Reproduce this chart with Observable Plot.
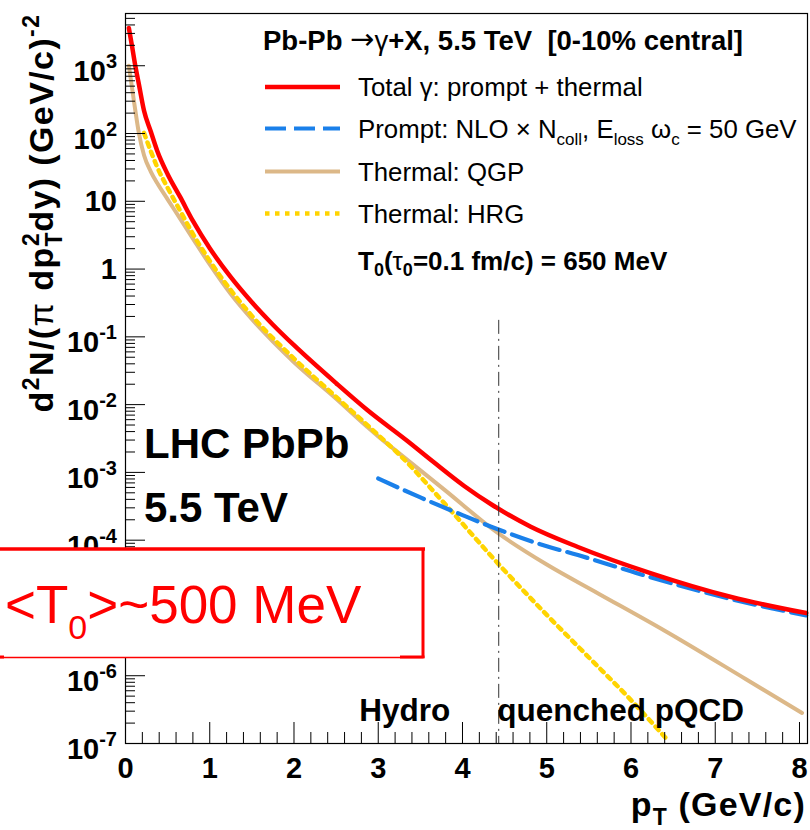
<!DOCTYPE html>
<html><head><meta charset="utf-8">
<script src="https://cdn.jsdelivr.net/npm/d3@7"></script>
<script src="https://cdn.jsdelivr.net/npm/@observablehq/plot@0.6"></script>
<style>
body{margin:0;background:#fff}
#chart{width:810px;height:830px;overflow:hidden}
#chart svg text{white-space:pre}
</style>
</head><body><div id="chart"></div>
<script>
// ---------------- data ----------------
const totalPt  = [0.04, 0.08, 0.12, 0.16, 0.22, 0.30, 0.376, 0.50, 0.65, 0.80, 1.00, 1.25, 1.50, 1.75, 2.00, 2.50, 2.87, 3.35, 3.66, 4.02, 4.34, 4.81, 5.37, 6.24, 7.19, 8.08];
const totalVal = [3600, 1860, 944, 525, 217, 107, 55.8, 25.1, 11.5, 5.13, 2.03, 0.759, 0.324, 0.151, 0.0752, 0.0207, 0.00832, 0.00288, 0.00141, 6.31e-4, 3.39e-4, 1.58e-4, 7.94e-5, 3.24e-5, 1.45e-5, 8.4e-6];

const promptPt  = [3.0, 3.5, 4.0, 4.34, 5.0, 5.37, 6.0, 6.24, 7.19, 8.08];
const promptVal = [8.13e-4, 4.27e-4, 2.34e-4, 1.58e-4, 8.13e-5, 6.03e-5, 3.47e-5, 2.82e-5, 1.35e-5, 7.76e-6];

const qgpPt  = [0.04, 0.10, 0.16, 0.22, 0.30, 0.376, 0.50, 0.65, 0.80, 1.00, 1.25, 1.50, 1.75, 2.00, 2.50, 2.87, 3.00, 3.26, 3.78, 4.41, 5.00, 5.61, 6.40, 7.36, 8.03];
const qgpVal = [1000, 302, 100, 47.9, 27.5, 18.6, 10.7, 5.5, 2.82, 1.17, 0.427, 0.182, 0.0851, 0.0423, 0.0122, 0.00468, 0.00339, 0.00186, 5.62e-4, 1.30e-4, 4.37e-5, 1.64e-5, 4.61e-6, 8.95e-7, 2.82e-7];

const hrgPt  = [0.22, 0.30, 0.376, 0.50, 0.65, 0.80, 1.00, 1.50, 2.00, 2.50, 3.00, 3.26, 3.78, 4.44, 5.00, 5.50, 6.00, 6.45];
const hrgVal = [102, 55, 32, 15.8, 7.2, 3.3, 1.32, 0.204, 0.0478, 0.0130, 3.55e-3, 1.78e-3, 3.55e-4, 4.27e-5, 7.9e-6, 1.86e-6, 4.37e-7, 1.07e-7];

const boundaryPt = [4.43];        // hydro / pQCD boundary (dash-dot line)
const boundaryTop = [0.175];      // upper end of the dash-dot line

const xDomain = [0, 8.095];
const yDomain = [1e-7, 5900];
const xMajor = [0, 1, 2, 3, 4, 5, 6, 7, 8];
const xMinor = d3.range(0, 40).map(i => +(i * 0.2 + 0.2).toFixed(1)).filter(v => v <= 8 && Math.abs(v - Math.round(v)) > 1e-6);
const yMajorExp = [-7, -6, -5, -4, -3, -2, -1, 0, 1, 2, 3];
const yLabelExp = [-7, -6, -4, -3, -2, -1, 0, 1, 2, 3];   // 10^-5 is hidden under the red box
const yMinor = yMajorExp.flatMap(e => [2,3,4,5,6,7,8,9].map(k => k * Math.pow(10, e))).filter(v => v < yDomain[1]);

// ---------------- styles ----------------
const FONT = "'Liberation Sans', Arial, Helvetica, sans-serif";
const C = {total: "#ff0000", prompt: "#1a80ea", qgp: "#dcb888", hrg: "#ffd400"};
const ST = {
  total:  {stroke: C.total, strokeWidth: 4.5},
  prompt: {stroke: C.prompt, strokeWidth: 4.2, strokeDasharray: "21,8"},
  qgp:    {stroke: C.qgp, strokeWidth: 4},
  hrg:    {stroke: C.hrg, strokeWidth: 4.5, strokeDasharray: "4.5,5.5"}
};

const rows = (xs, ys) => xs.map((x, i) => ({pT: x, v: ys[i]}));

function rich(parent, a, parts) {
  const t = parent.append("text")
    .attr("x", a.x).attr("y", a.y)
    .attr("font-family", FONT)
    .attr("font-size", a.size)
    .attr("font-weight", a.weight || "normal")
    .attr("fill", a.fill || "#000")
    .attr("text-anchor", a.anchor || "start")
    .style("white-space", "pre");
  if (a.spacing) t.attr("letter-spacing", a.spacing);
  if (a.transform) t.attr("transform", a.transform);
  let shift = 0;
  for (const p of parts) {
    const [s, o] = typeof p === "string" ? [p, {}] : p;
    const target = o.shift || 0;
    const ts = t.append("tspan").text(s).attr("dy", target - shift);
    if (o.size) ts.attr("font-size", o.size);
    if (o.dx) ts.attr("dx", o.dx);
    if (o.weight) ts.attr("font-weight", o.weight);
    if (o.family) ts.attr("font-family", o.family);
    shift = target;
  }
  return t;
}

// y tick labels (10^n with superscripts)
function yTickLabels(index, scales) {
  const g = d3.create("svg:g");
  for (const e of yLabelExp) {
    const py = scales.y(Math.pow(10, e));
    if (e === 0) rich(g, {x: 117, y: py + 10, anchor: "end", size: 29, weight: "bold"}, ["1"]);
    else if (e === 1) rich(g, {x: 117, y: py + 10, anchor: "end", size: 29, weight: "bold"}, ["10"]);
    else rich(g, {x: 117, y: py + 16, anchor: "end", size: 29, weight: "bold"}, ["10", [String(e), {size: 20, shift: -13}]]);
  }
  return g.node();
}

function axisTitles() {
  const g = d3.create("svg:g");
  rich(g, {x: 806, y: 816, anchor: "end", size: 34, weight: "bold", spacing: 1.2},
    ["p", ["T", {size: 23, shift: 9}], " (GeV/c)"]);
  rich(g, {x: 0, y: 0, anchor: "middle", size: 34, weight: "bold", spacing: 1.4, transform: "translate(53,213) rotate(-90)"},
    ["d", ["2", {size: 23, shift: -14}], "N/(", ["π", {weight: "normal"}], " dp",
     ["T", {size: 23, shift: 9}], ["2", {size: 23, shift: -14, dx: -15}], "dy) (GeV/c)", ["-2", {size: 23, shift: -14}]]);
  return g.node();
}

function legend() {
  const g = d3.create("svg:g");
  rich(g, {x: 263, y: 50, size: 27.5, weight: "bold"},
    ["Pb-Pb ", ["→", {weight: "normal", family: "'DejaVu Sans', sans-serif", size: 29, shift: -1}], ["γ", {weight: "normal", size: 27.5}], "+X, 5.5 TeV  [0-10% central]"]);
  const ys = [87, 128.5, 171.5, 213.5];
  const keys = ["total", "prompt", "qgp", "hrg"];
  keys.forEach((k, i) => {
    const s = ST[k];
    g.append("line").attr("x1", 265).attr("x2", 340).attr("y1", ys[i]).attr("y2", ys[i])
      .attr("stroke", s.stroke).attr("stroke-width", s.strokeWidth)
      .attr("stroke-dasharray", s.strokeDasharray || null);
  });
  const sub = t => [t, {size: 17, shift: 7}];
  rich(g, {x: 358, y: ys[0] + 9, size: 25.8}, ["Total ", "γ", ": prompt + thermal"]);
  rich(g, {x: 358, y: ys[1] + 9, size: 25.8}, ["Prompt: NLO", " × ", "N", sub("coll"), [", E", {}], sub("loss"), [" ω", {}], sub("c"), [" = 50 GeV", {}]]);
  rich(g, {x: 358, y: ys[2] + 9, size: 25.8}, ["Thermal: QGP"]);
  rich(g, {x: 358, y: ys[3] + 9, size: 25.8}, ["Thermal: HRG"]);
  rich(g, {x: 358, y: 270, size: 26, weight: "bold"},
    ["T", ["0", {size: 18, shift: 6}], ["(", {}], ["τ", {weight: "normal"}], ["0", {size: 18, shift: 6}], ["=0.1 fm/c) = 650 MeV", {}]]);
  return g.node();
}

function annotations(index, scales) {
  const g = d3.create("svg:g");
  rich(g, {x: 144, y: 458, size: 42, weight: "bold"}, ["LHC PbPb"]);
  rich(g, {x: 144, y: 522, size: 42, weight: "bold"}, ["5.5 TeV"]);
  const bx = scales.x(boundaryPt[0]);
  rich(g, {x: bx - 139, y: 721, size: 31.5, weight: "bold"}, ["Hydro"]);
  rich(g, {x: bx - 1, y: 721, size: 31.5, weight: "bold"}, ["quenched pQCD"]);
  return g.node();
}

function redBox() {
  const g = d3.create("svg:g");
  g.append("rect").attr("x", -10).attr("y", 549).attr("width", 433).attr("height", 108).attr("fill", "#fff");
  g.append("line").attr("x1", -10).attr("x2", 425).attr("y1", 549).attr("y2", 549).attr("stroke", "#f00").attr("stroke-width", 3.5);
  g.append("line").attr("x1", 423).attr("x2", 423).attr("y1", 549).attr("y2", 658).attr("stroke", "#f00").attr("stroke-width", 3);
  g.append("line").attr("x1", 0).attr("x2", 423).attr("y1", 657.5).attr("y2", 657.5).attr("stroke", "#f00").attr("stroke-width", 1.5);
  g.append("line").attr("x1", 400).attr("x2", 424.5).attr("y1", 657).attr("y2", 657).attr("stroke", "#f00").attr("stroke-width", 3);
  g.append("line").attr("x1", 0).attr("x2", 4).attr("y1", 657).attr("y2", 657).attr("stroke", "#f00").attr("stroke-width", 3);
  rich(g, {x: 5, y: 623, size: 53, fill: "#f00"}, ["<T", ["0", {size: 34, shift: 16}], [">~500 MeV", {}]]);
  return g.node();
}

const plotW = 810 - 125 - 3, plotH = 830 - 13 - 87;

const chart = Plot.plot({
  width: 810, height: 830,
  marginTop: 13, marginBottom: 87, marginLeft: 125, marginRight: 3,
  style: {background: "#fff", fontFamily: FONT, overflow: "visible"},
  x: {domain: xDomain, axis: null},
  y: {type: "log", domain: yDomain, axis: null},
  marks: [
    Plot.line(rows(qgpPt, qgpVal), {x: "pT", y: "v", curve: "monotone-x", ...ST.qgp}),
    Plot.line(rows(hrgPt, hrgVal), {x: "pT", y: "v", curve: "monotone-x", ...ST.hrg}),
    Plot.line(rows(promptPt, promptVal), {x: "pT", y: "v", curve: "monotone-x", ...ST.prompt}),
    Plot.line(rows(totalPt, totalVal), {x: "pT", y: "v", curve: "monotone-x", ...ST.total}),
    Plot.ruleX(boundaryPt, {x: d => d, y1: (d, i) => boundaryTop[i], y2: () => yDomain[0], stroke: "#333", strokeWidth: 1, strokeDasharray: "14,5,2,5"}),
    Plot.tickY(yMajorExp.map(e => Math.pow(10, e)), {y: d => d, insetRight: plotW - 20, stroke: "#000", strokeWidth: 1}),
    Plot.tickY(yMinor, {y: d => d, insetRight: plotW - 10, stroke: "#000", strokeWidth: 1}),
    Plot.tickX(xMajor, {x: d => d, insetTop: plotH - 21, stroke: "#000", strokeWidth: 1}),
    Plot.tickX(xMinor, {x: d => d, insetTop: plotH - 11, stroke: "#000", strokeWidth: 1}),
    Plot.frame({stroke: "#000", strokeWidth: 1.2}),
    Plot.text(xMajor, {x: d => d, frameAnchor: "bottom", lineAnchor: "middle", text: d => String(d), dy: 25, fontSize: 29, fontWeight: "bold", fill: "#000"}),
    yTickLabels,
    axisTitles,
    legend,
    annotations,
    redBox
  ]
});
document.getElementById("chart").appendChild(chart);
</script>
</body></html>
